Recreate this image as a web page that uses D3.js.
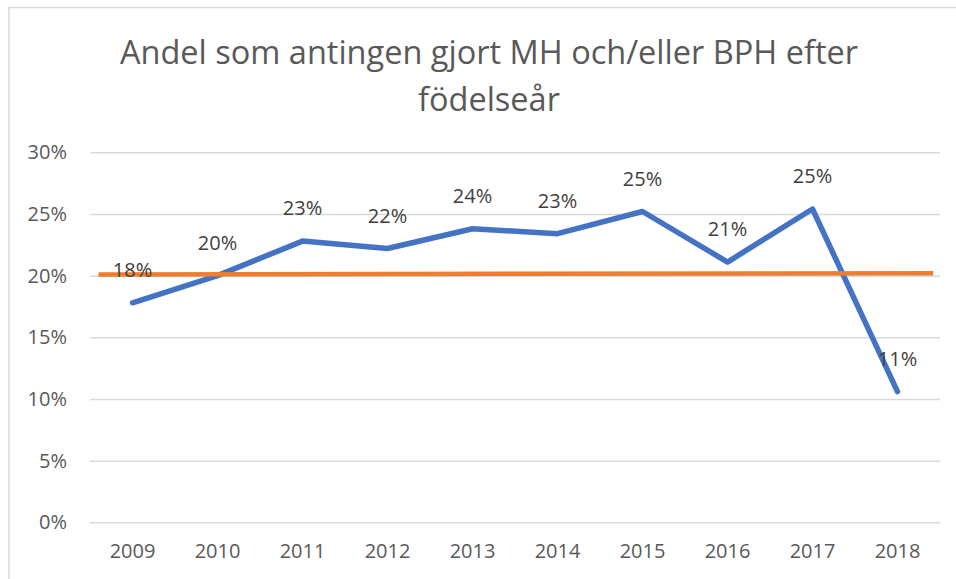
<!DOCTYPE html>
<html>
<head>
<meta charset="utf-8">
<script src="https://cdn.jsdelivr.net/npm/d3@7"></script>
<style>
  html, body { margin: 0; padding: 0; background: #fff; }
  svg { display: block; font-family: "Open Sans", "Noto Sans", sans-serif; }
</style>
</head>
<body>
<svg id="chart" width="956" height="579"></svg>
<script>
// ---- data ----
const titleLines = ["Andel som antingen gjort MH och/eller BPH efter", "födelseår"];
const years = ["2009", "2010", "2011", "2012", "2013", "2014", "2015", "2016", "2017", "2018"];
const shareValues = [17.8, 20.0, 22.8, 22.2, 23.8, 23.4, 25.2, 21.1, 25.4, 10.6];
const shareLabels = ["18%", "20%", "23%", "22%", "24%", "23%", "25%", "21%", "25%", "11%"];
const avgLineIndex = [-0.4, 9.42];   // category-index extent of the orange reference line
const avgLineValues = [20.1, 20.2];
const yTicks = [0, 5, 10, 15, 20, 25, 30];

// ---- layout ----
const svg = d3.select("#chart");
const plot = { left: 90, right: 940, top: 152.3, bottom: 522.3 };

// chart border
svg.append("rect")
  .attr("x", 9).attr("y", 7.5)
  .attr("width", 960).attr("height", 600)
  .attr("fill", "none").attr("stroke", "#d9d9d9").attr("stroke-width", 1.5);

const x = d3.scaleBand().domain(years).range([plot.left, plot.right]);
const xi = d3.scaleLinear().domain([-0.5, years.length - 0.5]).range([plot.left, plot.right]);
const y = d3.scaleLinear().domain([0, 30]).range([plot.bottom, plot.top]);

// title
svg.append("text")
  .attr("text-anchor", "middle")
  .attr("fill", "#595959").attr("font-size", 32.5)
  .selectAll("tspan").data(titleLines).join("tspan")
  .attr("x", 489)
  .attr("y", (d, i) => 64 + i * 47)
  .text(d => d);

// gridlines + y axis
const yAxis = d3.axisLeft(y).tickValues(yTicks)
  .tickSize(-(plot.right - plot.left))
  .tickPadding(23)
  .tickFormat(d => d + "%");
const gy = svg.append("g").attr("transform", `translate(${plot.left},0)`).call(yAxis);
gy.select(".domain").remove();
gy.selectAll(".tick line").attr("stroke", "#d9d9d9").attr("stroke-width", 1.5);
gy.selectAll(".tick text").attr("fill", "#595959").attr("font-size", 20)
  .attr("font-family", "'Open Sans', 'Noto Sans', sans-serif");

// x axis labels
const xAxis = d3.axisBottom(x).tickSize(0).tickPadding(22);
const gx = svg.append("g").attr("transform", `translate(0,${plot.bottom})`).call(xAxis);
gx.select(".domain").remove();
gx.selectAll(".tick text").attr("fill", "#595959").attr("font-size", 20)
  .attr("font-family", "'Open Sans', 'Noto Sans', sans-serif");

// blue series
const pts = years.map((yr, i) => ({ yr, v: shareValues[i], label: shareLabels[i] }));
const line = d3.line().x(d => x(d.yr) + x.bandwidth() / 2).y(d => y(d.v));
svg.append("path").datum(pts)
  .attr("d", line)
  .attr("fill", "none").attr("stroke", "#4472C4").attr("stroke-width", 5.5)
  .attr("stroke-linejoin", "round").attr("stroke-linecap", "round");

// orange reference line
const avgPts = avgLineIndex.map((t, i) => [xi(t), y(avgLineValues[i])]);
svg.append("path").datum(avgPts)
  .attr("d", d3.line())
  .attr("fill", "none").attr("stroke", "#ED7D31").attr("stroke-width", 4.5);

// data labels
svg.append("g").selectAll("text").data(pts).join("text")
  .attr("x", d => x(d.yr) + x.bandwidth() / 2)
  .attr("y", d => y(d.v) - 26)
  .attr("text-anchor", "middle")
  .attr("fill", "#404040").attr("font-size", 20)
  .text(d => d.label);
</script>
</body>
</html>
